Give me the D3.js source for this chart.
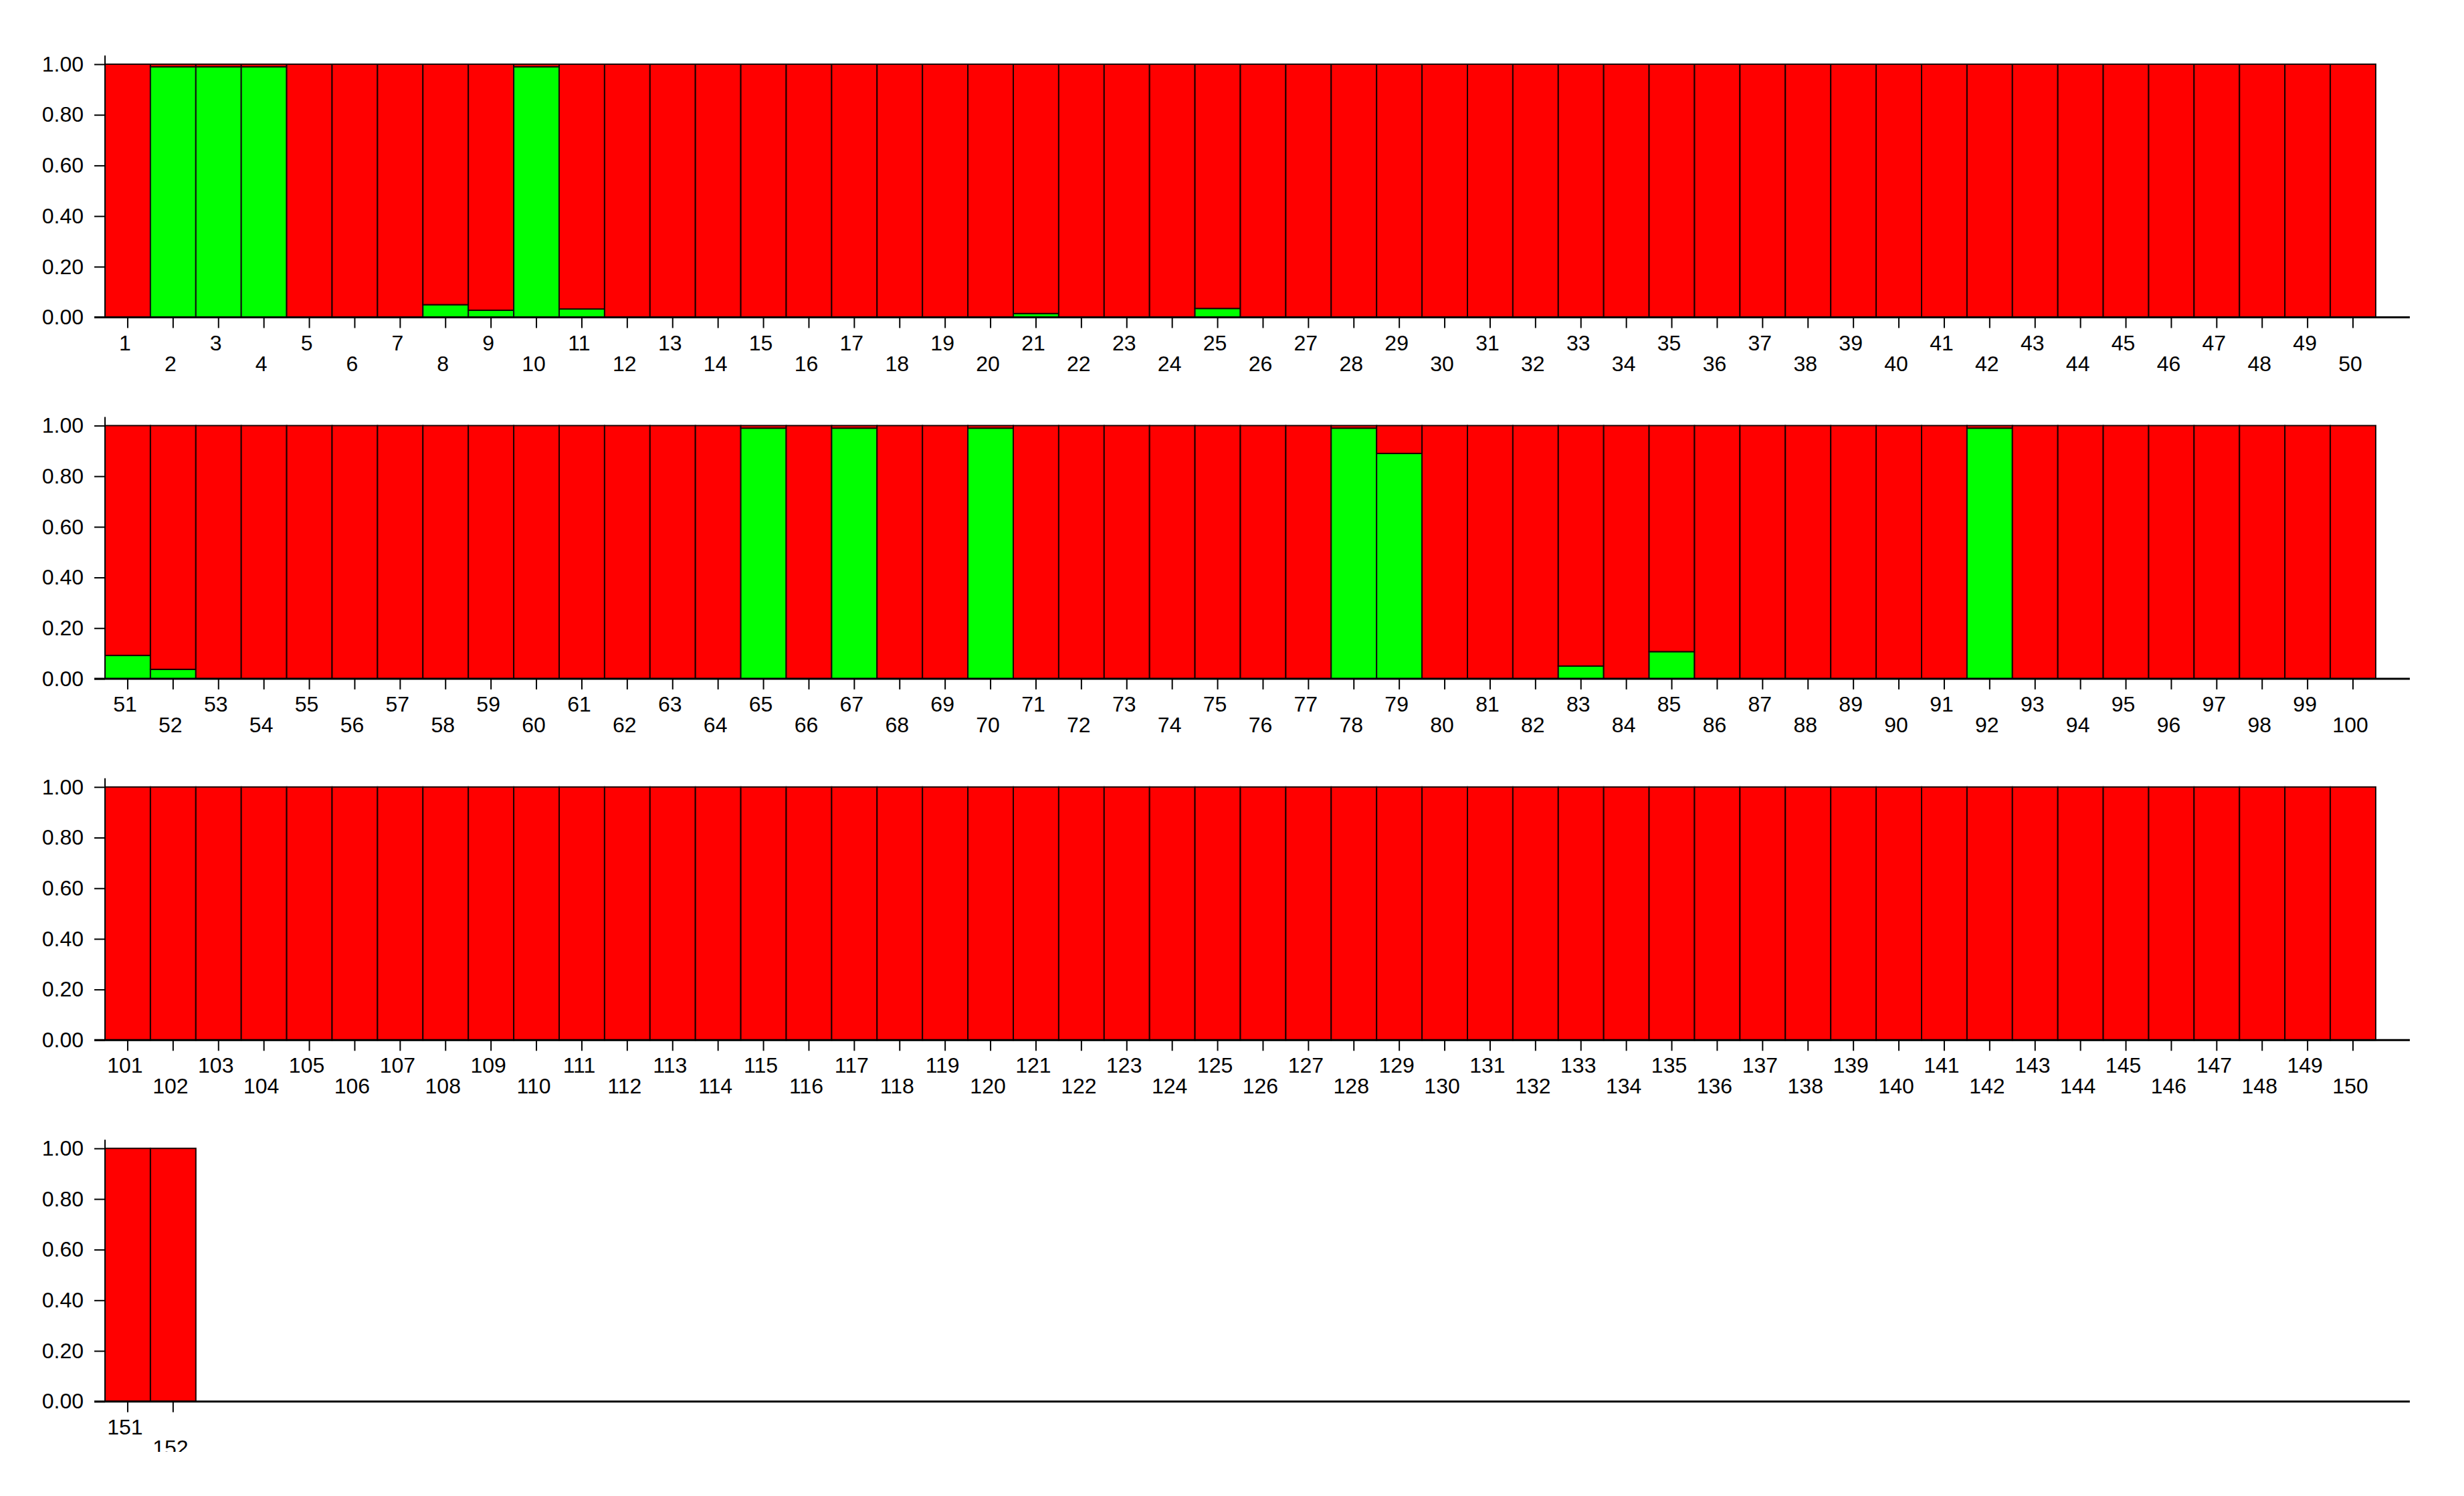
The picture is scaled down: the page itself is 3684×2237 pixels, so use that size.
<!DOCTYPE html>
<html>
<head>
<meta charset="utf-8">
<script src="https://cdn.jsdelivr.net/npm/d3@7"></script>
<style>
  html, body { margin: 0; padding: 0; background: #ffffff; }
  svg { display: block; }
  text { font-family: "Liberation Sans", Arial, sans-serif; fill: #000; }
</style>
</head>
<body>
<script>
// ---- Data (cluster membership proportions, 2 clusters) ----
const individuals = d3.range(1, 153).map(String);            // "1" .. "152"
// proportion assigned to the green cluster (red = 1 - green)
const greenShare = new Array(152).fill(0);
const greenIds   = [2, 3, 4, 8, 9, 10, 11, 21, 25, 51, 52, 65, 67, 70, 78, 79, 83, 85, 92];
const greenVals  = [0.99, 0.99, 0.99, 0.05, 0.028, 0.99, 0.033, 0.015, 0.035, 0.092, 0.037, 0.99, 0.99, 0.99, 0.99, 0.89, 0.05, 0.107, 0.99];
greenIds.forEach((id, k) => { greenShare[id - 1] = greenVals[k]; });
const yTicks = [0, 0.2, 0.4, 0.6, 0.8, 1.0];
const perRow = 50;
const colors = { red: "#ff0000", green: "#00ff00" };

// ---- Layout ----
const W = 3684, H = 2237;
const x0 = 157, x1 = 3552, axisEnd = 3603;
const rowTop0 = 96, rowBase0 = 474.5, rowStep = 540.4;

const svg = d3.select("body").append("svg").attr("width", W).attr("height", H);
svg.append("rect").attr("width", W).attr("height", H).attr("fill", "#fff");
svg.append("clipPath").attr("id", "cut").append("rect")
  .attr("x", 0).attr("y", 0).attr("width", W).attr("height", 2171);
const root = svg.append("g").attr("clip-path", "url(#cut)");

const x = d3.scaleBand().domain(d3.range(perRow)).range([x0, x1]).paddingInner(0).paddingOuter(0);

const nRows = Math.ceil(individuals.length / perRow);
for (let r = 0; r < nRows; r++) {
  const top = rowTop0 + r * rowStep, base = rowBase0 + r * rowStep;
  const y = d3.scaleLinear().domain([0, 1]).range([base, top]);
  const g = root.append("g");
  const rowData = individuals.slice(r * perRow, (r + 1) * perRow).map((id, i) => ({
    id, i, green: greenShare[r * perRow + i]
  }));

  // bars: green bottom, red stacked on top
  const bars = g.append("g");
  rowData.forEach(d => {
    if (d.green > 0) {
      bars.append("rect")
        .attr("x", x(d.i)).attr("width", x.bandwidth())
        .attr("y", y(d.green)).attr("height", y(0) - y(d.green))
        .attr("fill", colors.green).attr("stroke", "#101010").attr("stroke-width", 2);
    }
    bars.append("rect")
      .attr("x", x(d.i)).attr("width", x.bandwidth())
      .attr("y", y(1)).attr("height", y(d.green) - y(1))
      .attr("fill", colors.red).attr("stroke", "#1a0000").attr("stroke-width", 2);
  });

  // y axis
  const yAxis = d3.axisLeft(y).tickValues(yTicks).tickFormat(d3.format(".2f")).tickSize(16).tickPadding(16);
  const ya = g.append("g").attr("transform", `translate(${x0},0)`).call(yAxis);
  ya.select(".domain").remove();
  ya.selectAll(".tick line").attr("stroke", "#000").attr("stroke-width", 2);
  ya.selectAll(".tick text").attr("font-size", 32).attr("font-family", "Liberation Sans, Arial, sans-serif");
  g.append("line").attr("x1", x0).attr("x2", x0).attr("y1", top - 13).attr("y2", base)
    .attr("stroke", "#000").attr("stroke-width", 2);

  // x axis
  const xAxis = d3.axisBottom(x).tickValues(rowData.map(d => d.i))
    .tickFormat(i => rowData[i].id).tickSize(16);
  const xa = g.append("g").attr("transform", `translate(0,${base})`).call(xAxis);
  xa.select(".domain").remove();
  xa.selectAll(".tick line").attr("stroke", "#000").attr("stroke-width", 2);
  xa.selectAll(".tick text")
    .attr("font-size", 32).attr("font-family", "Liberation Sans, Arial, sans-serif")
    .attr("dy", null)
    .attr("y", i => (i % 2 === 0) ? 49 : 80)
    .attr("dx", -4);
  g.append("line").attr("x1", x0 - 16).attr("x2", axisEnd).attr("y1", base).attr("y2", base)
    .attr("stroke", "#000").attr("stroke-width", 3);
}
</script>
</body>
</html>
